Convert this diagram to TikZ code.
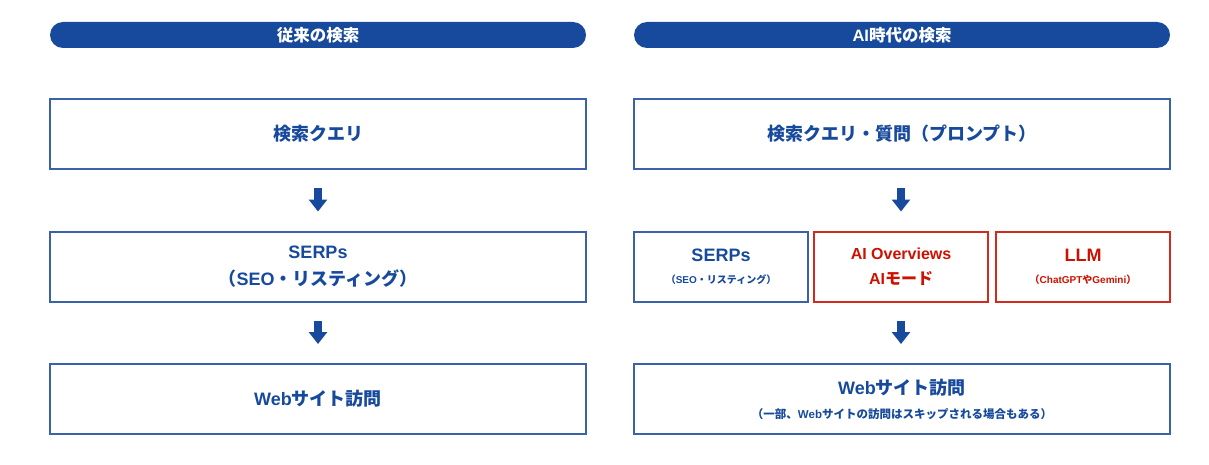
\documentclass[tikz,border=0pt]{standalone}
\usepackage{fontspec}
\setmainfont{Noto Sans CJK JP}
\newfontfamily\latin{Liberation Sans}
\usepackage{tikz}
\usetikzlibrary{arrows.meta}

\definecolor{navy}{HTML}{174A9C}
\definecolor{edgeblue}{HTML}{3A62AA}
\definecolor{aired}{HTML}{D42A1E}
\definecolor{airedtext}{HTML}{CC1100}
\newcommand{\smalltxt}{\fontsize{10}{12}\selectfont}
\newcommand{\lat}[1]{{\latin #1}}

\begin{document}
\begin{tikzpicture}[x=1pt,y=-1pt,
    head/.style={fill=navy,rounded corners=13pt,minimum width=536pt,minimum height=26pt,
      inner sep=0pt,text=white,font=\bfseries\fontsize{16.5}{16.5}\selectfont},
    box/.style={draw=edgeblue,line width=2pt,minimum width=536pt,minimum height=70pt,
      inner sep=0pt,align=center,text=navy,font=\bfseries\fontsize{18}{27}\selectfont},
    smallbox/.style={box,minimum width=174pt},
    redbox/.style={smallbox,draw=aired,text=airedtext},
    flow/.style={navy,line width=8pt,-{Triangle[width=18pt,length=12pt]},
      shorten <=18pt,shorten >=19pt}]
  \useasboundingbox (0,0) rectangle (1209,465);
  % 従来の検索
  \node[head] (oldhead) at (318,35) {従来の検索};
  \node[box] (oldquery) at (318,134) {検索クエリ};
  \node[box] (oldserp) at (318,266.5) {\lat{SERPs}\\（\lat{SEO}・リスティング）};
  \node[box] (oldvisit) at (318,399) {\lat{Web}サイト訪問};
  \draw[flow] (oldquery) -- (oldserp);
  \draw[flow] (oldserp) -- (oldvisit);
  % AI時代の検索
  \node[head] (aihead) at (902,35) {\lat{AI}時代の検索};
  \node[box] (aiquery) at (902,134) {検索クエリ・質問（プロンプト）};
  \node[smallbox] (aiserp) at (721,266.5) {\lat{SERPs}\\[-5pt]{\smalltxt（\lat{SEO}・リスティング）}};
  \node[redbox,font=\bfseries\fontsize{16}{25}\selectfont] (overview) at (901,266.5) {\lat{AI Overviews}\\\lat{AI}モード};
  \node[redbox] (llm) at (1083,266.5) {\lat{LLM}\\[-5pt]{\smalltxt（\lat{ChatGPT}や\lat{Gemini}）}};
  \node[box] (aivisit) at (902,399) {\lat{Web}サイト訪問\\[-3pt]{\fontsize{11.5}{13}\selectfont（一部、\lat{Web}サイトの訪問はスキップされる場合もある）}};
  \draw[flow] (aiquery.south -| overview) -- (overview);
  \draw[flow] (overview) -- (aivisit.north -| overview);
\end{tikzpicture}
\end{document}
